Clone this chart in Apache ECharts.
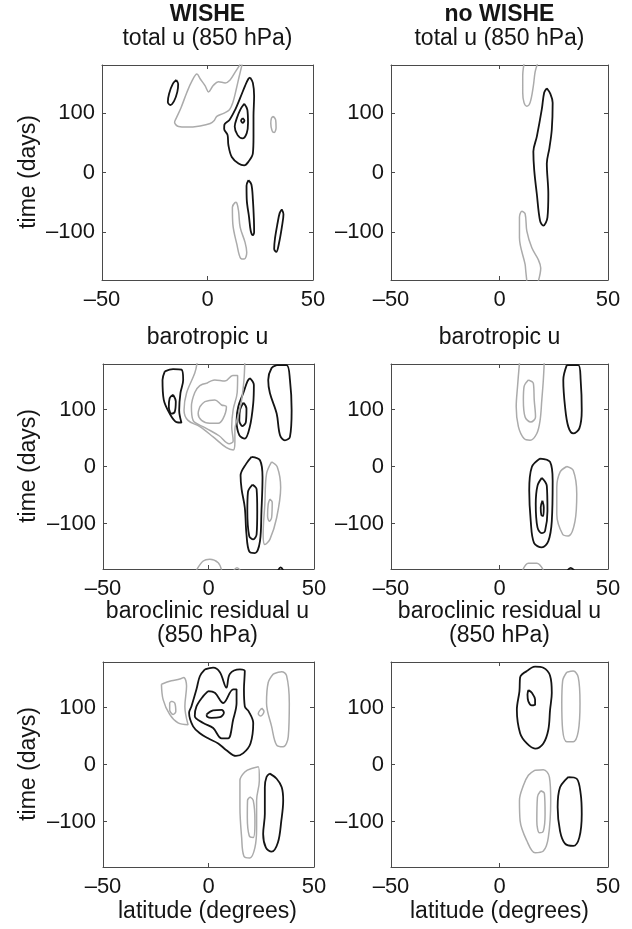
<!DOCTYPE html>
<html>
<head>
<meta charset="utf-8">
<script src="https://cdn.jsdelivr.net/npm/echarts@6/dist/echarts.min.js"></script>
<style>html,body{margin:0;padding:0;background:#fff}#c{width:632px;height:929px}</style>
</head>
<body>
<div id="c"></div>
<script>
// tick values
const xTicks = [-50, 0, 50];
const yTicks = [-100, 0, 100];
const colTitles = ['WISHE', 'no WISHE'];
const rowTitles = [['total u (850 hPa)'], ['barotropic u'], ['baroclinic residual u', '(850 hPa)']];
const yName = 'time (days)';
const xName = 'latitude (degrees)';

// contours: each is a list of [latitude (deg), time (days)]
// ---- WISHE, total u
const wisheTotalBlack = [
  [[-14.8,155],[-13.9,148],[-14.3,135],[-15.8,120],[-17.6,113],[-18.8,118],[-18.2,132],[-16.5,148]],
  [[20.2,159],[21.5,150],[22.1,128],[21.8,94],[21.8,60],[21.5,32],[19.4,18],[17.4,12],[14.7,15],[11.5,26],[9.9,46],[9.5,63],[7.9,73],[8.0,80],[10.4,88],[13.1,105],[15.5,125],[17.8,145],[19.4,157]],
  [[17.4,115],[18.9,105],[19.2,83],[18.6,66],[16.6,57],[14.2,63],[12.9,77],[13.9,91],[15.5,105]],
  [[16.7,91],[17.5,87],[16.7,83],[15.9,87]],
  [[19.4,-13],[20.8,-20],[21.5,-45],[22.0,-80],[22.1,-100],[21.5,-105],[20.5,-98],[19.7,-75],[18.6,-45],[18.5,-22]],
  [[35.2,-62],[36.0,-70],[35.3,-90],[33.9,-118],[32.6,-133],[31.6,-128],[32.0,-110],[33.2,-85],[34.2,-68]]
];
const wisheTotalGrey = [
  [[31.2,94],[32.3,88],[32.5,75],[31.6,67],[30.6,70],[30.0,82],[30.3,91]],
  [[13.1,-50],[11.8,-58],[12.0,-86],[13.9,-120],[15.8,-144],[17.4,-145],[18.6,-134],[17.8,-117],[15.5,-92],[14.7,-64],[13.9,-51]]
];
const wisheTotalGreyOpen = [
  [[15.5,181],[13.1,168],[10.7,155],[8.4,150],[5.2,152],[2.8,146],[0.5,135],[-1.1,145],[-3.5,157],[-5.0,165],[-7.4,153],[-9.8,134],[-12.6,108],[-14.8,91],[-15.6,84],[-13.7,77],[-9.8,76],[-3.5,78],[1.3,82],[3.2,87],[4.4,94],[7.6,99],[10.4,105],[12.0,117],[13.6,139],[15.1,162],[16.4,181]]
];
// ---- no WISHE, total u
const noWisheTotalBlack = [
  [[21.8,141],[23.4,132],[24.5,117],[24.1,72],[23.0,41],[21.8,15],[22.5,-36],[22.1,-75],[20.2,-89],[18.7,-81],[17.2,-36],[16.0,4],[15.6,35],[17.2,60],[19.5,106],[20.6,134]]
];
const noWisheTotalGrey = [];
const noWisheTotalGreyOpen = [
  [[11.3,182],[10.7,162],[10.7,134],[11.3,117],[12.6,111],[14.1,117],[15.6,145],[16.4,168],[17.5,182]],
  [[12.6,-182],[12.1,-165],[11.8,-154],[9.2,-109],[9.2,-75],[10.3,-65],[11.8,-69],[12.6,-98],[14.9,-126],[17.9,-146],[19.0,-160],[17.9,-182]]
];
// ---- WISHE, barotropic u
const wisheBaroBlack = [
  [[-20.7,167],[-16.8,171],[-12.8,170],[-12.0,152],[-13.3,129],[-13.9,99],[-12.8,77],[-15.2,78],[-18.4,93],[-21.2,117],[-21.8,152]],
  [[-16.8,126],[-15.5,114],[-16.0,96],[-17.6,93],[-18.8,105],[-18.4,120]],
  [[19.6,155],[21.5,143],[21.2,111],[19.6,70],[17.2,49],[14.6,55],[13.3,81],[14.1,105],[16.5,129],[18.4,149]],
  [[16.5,112],[18.0,102],[17.7,78],[16.1,71],[14.6,81],[14.9,99]],
  [[32.3,178],[37.0,178],[38.6,152],[39.4,99],[38.6,52],[36.2,46],[33.9,55],[32.3,93],[29.1,129],[28.3,152],[29.9,173]],
  [[20.4,17],[24.4,11],[25.6,-19],[25.1,-78],[24.4,-131],[22.0,-152],[19.3,-149],[18.0,-119],[17.2,-72],[15.7,-40],[15.2,-16],[17.9,5]],
  [[20.9,-32],[22.8,-40],[23.1,-78],[22.8,-119],[21.2,-128],[19.3,-122],[18.4,-78],[18.7,-45]]
];
const wisheBaroBlackOpen = [
  [[33.0,-182],[34.2,-177],[35.4,-182]]
];
const wisheBaroGrey = [
  [[-0.9,146],[3.0,152],[7.8,150],[11.5,160],[13.8,160],[13.6,130],[11.7,100],[11.0,70],[11.7,45],[9.8,40],[5.0,54],[-1.5,68],[-7.3,81],[-8.1,105],[-6.5,130],[-4.1,142]],
  [[-4.1,105],[-1.7,114],[3.0,117],[6.2,108],[8.5,105],[6.9,84],[4.6,76],[0.6,76],[-3.3,81],[-4.9,93]],
  [[29.9,8],[32.6,-1],[34.2,-37],[32.3,-90],[29.1,-128],[26.7,-137],[25.9,-119],[26.7,-66],[27.5,-13]],
  [[29.1,-57],[30.2,-63],[29.9,-90],[28.8,-96],[28.0,-87],[28.3,-66]]
];
const wisheBaroGreyOpen = [
  [[-5.4,182],[-6.5,164],[-10.4,129],[-11.6,99],[-9.7,81],[-4.1,70],[2.2,52],[8.5,33],[11.7,29],[12.5,43],[12.5,64],[14.1,90],[15.7,117],[16.8,152],[17.2,182]],
  [[-5.7,-182],[-2.5,-166],[0.6,-163],[4.6,-169],[6.2,-182]],
  [[12.0,-182],[13.5,-178],[15.0,-182]]
];
// ---- no WISHE, barotropic u
const noWisheBaroBlack = [
  [[31.0,178],[36.3,178],[37.4,152],[37.9,99],[36.8,67],[34.0,58],[31.7,70],[30.2,105],[29.4,152]],
  [[18.7,14],[23.3,8],[24.5,-25],[24.1,-96],[22.5,-131],[19.5,-142],[15.9,-134],[14.4,-96],[13.7,-42],[14.9,-1]],
  [[19.5,-20],[21.8,-34],[22.1,-78],[21.0,-113],[19.5,-117],[17.5,-107],[16.7,-66],[17.5,-34]],
  [[19.8,-60],[20.4,-72],[20.1,-87],[19.3,-85],[19.0,-72]]
];
const noWisheBaroBlackOpen = [
  [[31.4,-182],[32.8,-178],[34.4,-182]]
];
const noWisheBaroGrey = [
  [[13.3,152],[15.6,146],[16.0,117],[16.6,87],[14.4,78],[11.8,87],[11.0,117],[11.3,140]],
  [[31.0,0],[34.0,-7],[35.6,-48],[34.8,-96],[31.7,-122],[29.1,-119],[26.4,-84],[26.4,-37],[27.9,-10]]
];
const noWisheBaroGreyOpen = [
  [[9.2,182],[8.3,140],[7.7,105],[8.7,70],[11.3,49],[14.1,46],[17.2,58],[18.7,81],[19.5,117],[20.2,152],[20.6,182]],
  [[10.7,-182],[13.3,-170],[17.2,-170],[20.2,-182]]
];
// ---- WISHE, baroclinic residual u
const wisheClinBlack = [
  [[-1.7,167],[2.2,170],[5.4,162],[8.5,135],[10.1,159],[14.9,167],[17.2,164],[16.8,132],[17.2,102],[19.1,93],[21.2,73],[19.9,37],[16.5,20],[13.0,15],[8.5,25],[4.6,37],[-0.2,46],[-4.1,55],[-7.3,67],[-9.2,91],[-8.1,102],[-5.7,132],[-4.1,155]],
  [[-0.2,129],[3.0,126],[7.0,108],[11.7,132],[13.3,132],[13.3,108],[11.7,79],[9.3,46],[6.2,46],[2.2,64],[-2.5,73],[-6.5,85],[-5.7,102],[-2.5,120]],
  [[-0.9,88],[2.2,95],[6.2,96],[7.3,91],[5.4,83],[1.4,82],[-0.6,84]],
  [[29.1,-16],[32.3,-25],[34.7,-40],[35.4,-63],[34.5,-99],[32.9,-137],[29.9,-153],[27.2,-146],[25.9,-122],[26.7,-87],[26.7,-40],[27.5,-22]]
];
const wisheClinGrey = [
  [[-22.3,141],[-17.6,147],[-13.6,150],[-11.7,153],[-10.4,138],[-11.2,102],[-9.7,70],[-14.4,73],[-18.4,88],[-21.5,114]],
  [[-17.6,111],[-16.0,108],[-15.5,93],[-16.8,88],[-18.4,96],[-18.4,108]],
  [[25.2,99],[26.3,93],[24.7,85],[23.6,89]],
  [[30.7,159],[34.7,163],[37.0,156],[38.3,108],[37.8,49],[35.4,31],[32.3,34],[29.9,67],[27.5,108],[28.3,144]],
  [[20.4,-7],[23.6,-4],[24.1,-28],[22.8,-63],[22.8,-111],[22.0,-146],[19.6,-164],[16.8,-161],[15.7,-128],[14.9,-75],[14.9,-28],[17.2,-13]],
  [[19.6,-57],[21.2,-63],[22.0,-99],[21.2,-128],[19.3,-125],[18.4,-93],[18.5,-63]]
];
// ---- no WISHE, baroclinic residual u
const noWisheClinBlack = [
  [[12.6,164],[16.4,172],[20.2,170],[23.3,156],[24.1,126],[23.3,96],[22.5,61],[20.2,37],[16.4,28],[12.6,37],[9.5,55],[8.0,96],[9.2,129],[9.5,153]],
  [[13.3,131],[14.9,126],[16.4,114],[16.4,105],[14.9,104],[13.3,111],[12.9,123]],
  [[31.7,-22],[35.6,-25],[37.4,-51],[37.9,-87],[36.8,-128],[34.0,-143],[30.2,-139],[27.9,-117],[26.8,-75],[27.9,-40]]
];
const noWisheClinGrey = [
  [[31.0,162],[34.0,164],[36.3,153],[37.1,108],[36.3,58],[34.0,40],[31.0,40],[29.1,61],[28.7,108],[29.1,147]],
  [[16.4,-10],[20.2,-9],[23.0,-22],[23.6,-63],[22.5,-128],[20.2,-152],[16.4,-155],[12.6,-134],[9.5,-99],[9.2,-63],[11.0,-37],[13.3,-19]],
  [[19.0,-46],[20.7,-51],[21.0,-87],[20.2,-117],[18.4,-120],[17.2,-99],[17.5,-57]]
];

const BLACK = '#141414', GREY = '#ababab', FRAME = '#4a4a4a', TXT = '#151515';
const FONT = '"Liberation Sans", Arial, Helvetica, sans-serif';

const gridBoxes = [
  {left: 102, top: 65, width: 211, height: 215},
  {left: 391, top: 65, width: 217, height: 215},
  {left: 103, top: 364, width: 211, height: 205},
  {left: 391, top: 364, width: 217, height: 205},
  {left: 103, top: 662, width: 211, height: 205},
  {left: 391, top: 662, width: 217, height: 205}
];
const panelData = [
  {closed: [[wisheTotalBlack, BLACK], [wisheTotalGrey, GREY]], open: [[wisheTotalGreyOpen, GREY]]},
  {closed: [[noWisheTotalBlack, BLACK], [noWisheTotalGrey, GREY]], open: [[noWisheTotalGreyOpen, GREY]]},
  {closed: [[wisheBaroBlack, BLACK], [wisheBaroGrey, GREY]], open: [[wisheBaroBlackOpen, BLACK], [wisheBaroGreyOpen, GREY]]},
  {closed: [[noWisheBaroBlack, BLACK], [noWisheBaroGrey, GREY]], open: [[noWisheBaroBlackOpen, BLACK], [noWisheBaroGreyOpen, GREY]]},
  {closed: [[wisheClinBlack, BLACK], [wisheClinGrey, GREY]], open: []},
  {closed: [[noWisheClinBlack, BLACK], [noWisheClinGrey, GREY]], open: []}
];

const fmt = v => (v < 0 ? '\u2013' + Math.abs(v) : String(v));
const grids = [], xAxes = [], yAxes = [], series = [];
gridBoxes.forEach((g, i) => {
  grids.push(Object.assign({containLabel: false}, g));
  const base = {gridIndex: i, type: 'value', splitLine: {show: false},
    axisLine: {show: true, onZero: false, lineStyle: {color: FRAME, width: 1}}};
  xAxes.push(Object.assign({}, base, {min: -50, max: 50, position: 'bottom',
    axisTick: {show: true, inside: true, length: 4, customValues: xTicks, lineStyle: {color: FRAME}},
    axisLabel: {show: true, customValues: xTicks, formatter: fmt, fontSize: 22, fontFamily: FONT, color: TXT, margin: 9}}));
  xAxes.push(Object.assign({}, base, {min: -50, max: 50, position: 'top',
    axisTick: {show: true, inside: true, length: 4, customValues: xTicks, lineStyle: {color: FRAME}},
    axisLabel: {show: false}}));
  yAxes.push(Object.assign({}, base, {min: -180, max: 180, position: 'left',
    axisTick: {show: true, inside: true, length: 4, customValues: yTicks, lineStyle: {color: FRAME}},
    axisLabel: {show: true, customValues: yTicks, formatter: fmt, fontSize: 22, fontFamily: FONT, color: TXT, margin: 7}}));
  yAxes.push(Object.assign({}, base, {min: -180, max: 180, position: 'right',
    axisTick: {show: true, inside: true, length: 4, customValues: yTicks, lineStyle: {color: FRAME}},
    axisLabel: {show: false}}));
  const add = (c, color, close) => {
    series.push({type: 'line', xAxisIndex: 2 * i, yAxisIndex: 2 * i,
      data: close ? c.concat([c[0]]) : c, showSymbol: false, symbol: 'none',
      smooth: 0.35, silent: true, clip: true,
      lineStyle: {color: color, width: color === BLACK ? 1.8 : 1.5}});
  };
  panelData[i].closed.forEach(([list, color]) => list.forEach(c => add(c, color, true)));
  panelData[i].open.forEach(([list, color]) => list.forEach(c => add(c, color, false)));
});

const colX = [207.5, 499.5];
const txt = (text, x, y, size, bold, rot) => ({type: 'text', x: x, y: y, rotation: rot || 0,
  style: {text: text, fill: TXT, font: (bold ? 'bold ' : '') + size + 'px ' + FONT, align: 'center', verticalAlign: 'middle'}});
const graphics = [];
colX.forEach((x, c) => {
  graphics.push(txt(colTitles[c], x, 15, 23, true));
  graphics.push(txt(rowTitles[0][0], x, 39, 23));
  graphics.push(txt(rowTitles[1][0], x, 338, 23));
  graphics.push(txt(rowTitles[2][0], x, 612, 23));
  graphics.push(txt(rowTitles[2][1], x, 636, 23));
  graphics.push(txt(xName, x, 912, 23));
});
[172, 466, 764].forEach(y => graphics.push(txt(yName, 29, y, 23, false, Math.PI / 2)));

const chart = echarts.init(document.getElementById('c'), null, {renderer: 'canvas'});
chart.setOption({
  animation: false,
  backgroundColor: '#ffffff',
  grid: grids, xAxis: xAxes, yAxis: yAxes, series: series,
  graphic: graphics
});
</script>
</body>
</html>
